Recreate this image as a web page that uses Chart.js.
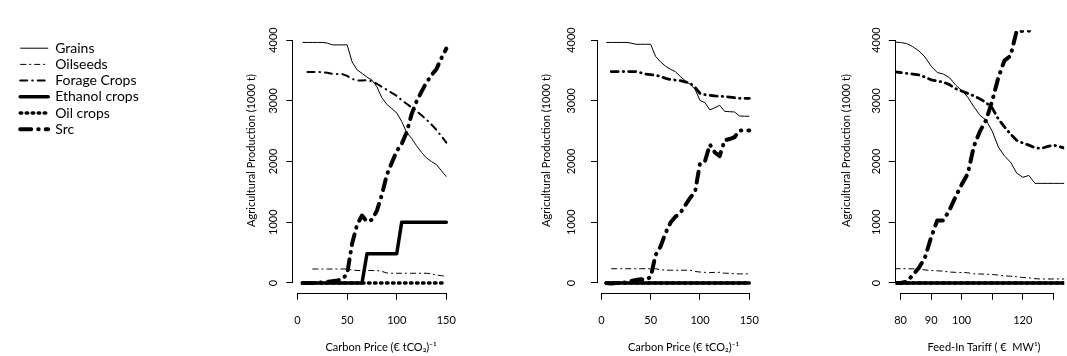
<!DOCTYPE html>
<html><head><meta charset="utf-8">
<script src="https://cdn.jsdelivr.net/npm/chart.js@4.4.1/dist/chart.umd.min.js"></script>
<style>
html,body{margin:0;padding:0;background:#fff;width:1067px;height:356px;overflow:hidden}
canvas.c{position:absolute;top:0}
</style></head><body>
<canvas id="lg" class="c" style="left:0px" width="230" height="160"></canvas>
<canvas id="p1" class="c" style="left:230px" width="240" height="356"></canvas>
<canvas id="p2" class="c" style="left:533px" width="240" height="356"></canvas>
<canvas id="p3" class="c" style="left:830px" width="237" height="356"></canvas>
<script>
// ---------- data ----------
const seriesNames = ['Grains', 'Oilseeds', 'Forage Crops', 'Ethanol crops', 'Oil crops', 'Src'];

const carbonPrice = [5,10,15,20,25,30,35,40,45,50,55,60,65,70,75,80,85,90,95,100,105,110,115,120,125,130,135,140,145,150];
const carbonTicks = [0, 50, 100, 150];
const carbonTickLabels = ['0', '50', '100', '150'];

const p1Grains   = [3960,3960,3960,3960,3960,3950,3920,3920,3920,3920,3640,3510,3450,3390,3340,3230,3050,2940,2870,2800,2660,2480,2380,2260,2150,2060,2000,1950,1850,1750];
const p1Oilseeds = [null,null,230,230,230,230,230,230,230,230,215,205,205,205,205,205,190,165,160,160,160,160,160,160,160,160,150,130,120,110];
const p1Forage   = [null,3475,3475,3475,3470,3460,3445,3440,3440,3410,3360,3335,3335,3340,3320,3280,3230,3180,3130,3080,3010,2950,2890,2830,2760,2690,2610,2520,2420,2310];
const p1Ethanol  = [0,0,0,0,0,0,0,0,0,0,0,0,0,480,480,480,480,480,480,480,1000,1000,1000,1000,1000,1000,1000,1000,1000,1000];
const p1OilCrops = [0,0,0,0,0,0,0,0,0,0,0,0,0,0,0,0,0,0,0,0,0,0,0,0,0,0,0,0,0,0];
const p1Src      = [0,0,0,5,10,20,30,40,60,150,650,960,1110,1010,1040,1190,1450,1780,1980,2170,2290,2480,2780,2990,3150,3300,3420,3520,3700,3860];

const p2Grains   = [3960,3960,3960,3960,3960,3950,3930,3930,3930,3930,3730,3640,3570,3520,3480,3400,3330,3270,3190,3005,2970,2850,2885,2925,2825,2820,2815,2750,2745,2745];
const p2Oilseeds = [null,235,235,235,235,235,235,235,235,235,235,220,210,210,210,210,210,210,190,180,175,170,175,175,160,160,150,150,150,150];
const p2Forage   = [null,3480,3480,3480,3480,3480,3480,3460,3440,3430,3420,3400,3370,3350,3340,3330,3310,3290,3220,3120,3100,3090,3080,3075,3070,3060,3050,3040,3040,3040];
const p2Ethanol  = [0,0,0,0,0,0,0,0,0,0,0,0,0,0,0,0,0,0,0,0,0,0,0,0,0,0,0,0,0,0];
const p2OilCrops = [0,0,0,0,0,0,0,0,0,0,0,0,0,0,0,0,0,0,0,0,0,0,0,0,0,0,0,0,0,0];
const p2Src      = [0,-10,0,0,10,30,50,60,50,100,460,600,820,990,1090,1150,1280,1400,1500,1970,2000,2280,2150,2090,2350,2370,2400,2510,2510,2510];

const feedInTariff = [78,80,82,84,86,88,90,92,94,96,98,100,102,104,106,108,110,112,114,116,118,120,122,124,126,128,130,132,134];
const tariffTicks = [80, 90, 100, 110, 120, 130];
const tariffTickLabels = ['80', '90', '100', '', '120', ''];

const p3Grains   = [3965,3960,3940,3890,3820,3720,3570,3465,3440,3380,3260,3170,3060,2900,2760,2680,2500,2240,2090,1990,1810,1740,1770,1640,1640,1640,1640,1640,1640];
const p3Oilseeds = [235,235,235,232,228,215,205,200,195,180,175,172,168,150,148,145,140,130,115,112,105,90,85,70,66,66,66,66,66];
const p3Forage   = [3475,3465,3450,3440,3425,3390,3345,3325,3305,3265,3200,3160,3120,3080,3030,2970,2880,2700,2570,2450,2350,2305,2270,2225,2215,2245,2270,2245,2215];
const p3Ethanol  = [0,0,0,0,0,0,0,0,0,0,0,0,0,0,0,0,0,0,0,0,0,0,0,0,0,0,0,0,0];
const p3OilCrops = [0,0,0,0,0,0,0,0,0,0,0,0,0,0,0,0,0,0,0,0,0,0,0,0,0,0,0,0,0];
const p3Src      = [0,0,20,130,250,420,750,1030,1030,1200,1420,1620,1800,2250,2500,2680,3000,3380,3660,3740,4150,4150,4150,4500,4500,4500,4500,4500,4500];

const yTicks = [0, 1000, 2000, 3000, 4000];
const yTitle = 'Agricultural Production (1000 t)';
const carbonTitle = 'Carbon Price (€ tCO₂)⁻¹';
const tariffTitle = 'Feed-In Tariff ( €  MW¹)';

// ---------- styles ----------
const FONT = 'Lato, "DejaVu Sans", sans-serif';
const styles = [
  {w: 1,   dash: [],             cap: 'butt'},
  {w: 1,   dash: [6, 3, 2, 3],   cap: 'butt'},
  {w: 2,   dash: [7, 5, 0.5, 5], cap: 'round'},
  {w: 3.5, dash: [],             cap: 'round'},
  {w: 3.5, dash: [1.5, 4.5],     cap: 'round'},
  {w: 4,   dash: [11, 7, 0.5, 7],cap: 'round'}
];
const EM = '\u2003', EN = '\u2002';

const mctx = document.createElement('canvas').getContext('2d');
mctx.font = '11px ' + FONT;
const halfTick = mctx.measureText('4000').width / 2;

// R-style axis lines spanning first..last tick
const axisLines = {
  id: 'axisLines',
  afterDraw(chart) {
    const {ctx} = chart;
    const x = chart.scales.x, y = chart.scales.y;
    const xt = x.ticks, yt = y.ticks;
    ctx.save();
    ctx.strokeStyle = '#000';
    ctx.lineWidth = 1;
    ctx.beginPath();
    const yb = Math.round(x.top) + 0.5;
    ctx.moveTo(x.getPixelForValue(xt[0].value), yb);
    ctx.lineTo(x.getPixelForValue(xt[xt.length - 1].value), yb);
    const xl = Math.round(y.right) - 0.5;
    ctx.moveTo(xl, y.getPixelForValue(yt[0].value));
    ctx.lineTo(xl, y.getPixelForValue(yt[yt.length - 1].value));
    ctx.stroke();
    ctx.restore();
  }
};

function panel(id, xs, series, c) {
  const f = {family: FONT, size: 11};
  return new Chart(document.getElementById(id), {
    type: 'line',
    data: {
      datasets: series.map((ys, i) => ({
        label: seriesNames[i],
        data: ys.map((v, j) => ({x: xs[j], y: v})),
        borderColor: '#000', backgroundColor: '#000',
        borderWidth: i === 2 ? c.forageW : styles[i].w,
        borderDash: styles[i].dash, borderCapStyle: styles[i].cap, borderJoinStyle: 'round',
        pointRadius: 0, pointHoverRadius: 0, tension: 0, fill: false, spanGaps: false
      }))
    },
    options: {
      responsive: false, animation: false, events: [],
      layout: {padding: {left: 0, top: 30.3, right: c.padRight, bottom: 0}},
      plugins: {legend: {display: false}, tooltip: {enabled: false}},
      scales: {
        x: {
          type: 'linear', min: c.xMin, max: c.xMax,
          afterBuildTicks: s => { s.ticks = c.xTicks.map(v => ({value: v})); },
          afterFit: s => { s.height = 63.3; },
          border: {display: false},
          grid: {drawOnChartArea: false, drawTicks: true, tickLength: 7, color: '#000', lineWidth: 1},
          ticks: {autoSkip: false, maxRotation: 0, minRotation: 0, padding: 13.7, color: '#000', font: f,
                  callback: (v, i) => c.xLabels[i]},
          title: {display: true, text: c.xTitle, color: '#000', font: f, padding: {top: 0, bottom: 2.4}}
        },
        y: {
          type: 'linear', min: -160, max: 4160,
          afterBuildTicks: s => { s.ticks = yTicks.map(v => ({value: v})); },
          afterFit: s => { s.width = c.yWidth; },
          border: {display: false},
          grid: {drawOnChartArea: false, drawTicks: true, tickLength: 7, color: '#000', lineWidth: 1},
          ticks: {autoSkip: false, minRotation: 90, maxRotation: 90, crossAlign: 'center',
                  padding: c.yTickGap - halfTick, color: '#000', font: f, callback: v => String(v)},
          title: {display: true, text: EM + EM + EN + yTitle, color: '#000', font: f, padding: {top: c.yTitlePad, bottom: 0}}
        }
      }
    },
    plugins: [axisLines]
  });
}

panel('p1', carbonPrice, [p1Grains, p1Oilseeds, p1Forage, p1Ethanol, p1OilCrops, p1Src],
  {xMin: -4.3, xMax: 156, padRight: 11.1, yWidth: 63.3, yTitlePad: 15.1, yTickGap: 13,
   forageW: 2, xTicks: carbonTicks, xLabels: carbonTickLabels, xTitle: EM + EM + carbonTitle});
panel('p2', carbonPrice, [p2Grains, p2Oilseeds, p2Forage, p2Ethanol, p2OilCrops, p2Src],
  {xMin: -3.4, xMax: 156, padRight: 11.3, yWidth: 65, yTitlePad: 7.1, yTickGap: 19.3,
   forageW: 2.8, xTicks: carbonTicks, xLabels: carbonTickLabels, xTitle: EM + EN + carbonTitle});
panel('p3', feedInTariff, [p3Grains, p3Oilseeds, p3Forage, p3Ethanol, p3OilCrops, p3Src],
  {xMin: 78.4, xMax: 133.55, padRight: 0, yWidth: 65.7, yTitlePad: 10.1, yTickGap: 12,
   forageW: 2.8, xTicks: tariffTicks, xLabels: tariffTickLabels, xTitle: EM + tariffTitle});

// legend
new Chart(document.getElementById('lg'), {
  type: 'line',
  data: {datasets: seriesNames.map(n => ({label: n, data: []}))},
  options: {
    responsive: false, animation: false, events: [],
    layout: {padding: {left: 18, top: 39, right: 0, bottom: 0}},
    scales: {x: {display: false}, y: {display: false}},
    plugins: {
      tooltip: {enabled: false},
      legend: {
        position: 'left', align: 'start', maxWidth: 220,
        labels: {
          usePointStyle: true, pointStyleWidth: 28, padding: 2.2, color: '#000',
          font: {family: FONT, size: 14},
          generateLabels: () => seriesNames.map((n, i) => ({
            text: n, fillStyle: '#000', strokeStyle: '#000', fontColor: '#000',
            lineWidth: styles[i].w, lineDash: styles[i].dash, lineCap: styles[i].cap,
            pointStyle: 'line', hidden: false, datasetIndex: i, textAlign: 'left'
          }))
        }
      }
    }
  }
});
</script>
</body></html>
